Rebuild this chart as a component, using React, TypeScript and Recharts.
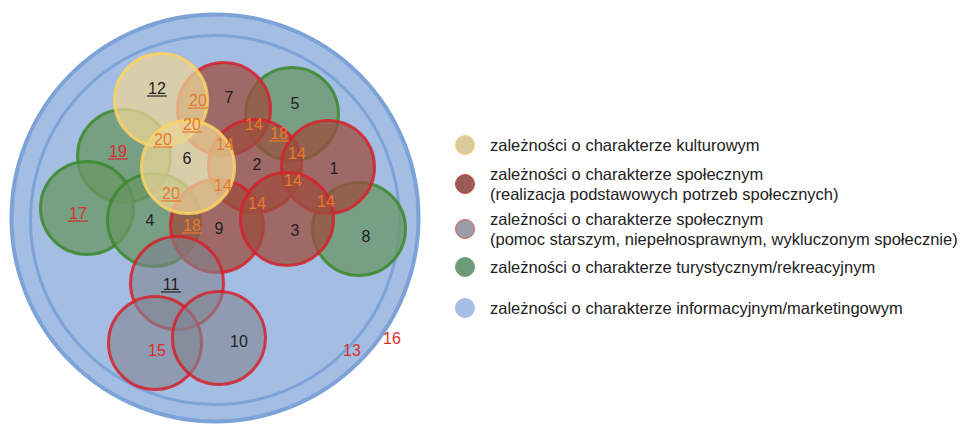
import { ScatterChart, Scatter, XAxis, YAxis } from 'recharts';

// circle centres and radii in diagram units (1 unit = 1 px)
const blueRings = [
  { id: 'outer', x: 215, y: 218, r: 203.5 },
  { id: 'inner', x: 215, y: 220, r: 184.5 },
];
const greenCircles = [
  { id: '5', x: 292, y: 114, r: 46.5 },
  { id: '19', x: 124, y: 156, r: 46.5 },
  { id: '17', x: 87, y: 208, r: 46.5 },
  { id: '4', x: 154, y: 220, r: 46.5 },
  { id: '8', x: 359, y: 229, r: 46.5 },
];
const redCircles = [
  { id: '7', x: 224, y: 109, r: 46.5 },
  { id: '2', x: 255, y: 166, r: 46.5 },
  { id: '1', x: 328, y: 167, r: 46.5 },
  { id: '9', x: 217, y: 226, r: 46.5 },
  { id: '3', x: 287, y: 219, r: 46.5 },
];
const yellowCircles = [
  { id: '12', x: 161, y: 100, r: 46.5 },
  { id: '6', x: 188, y: 167, r: 46.5 },
];
const greyCircles = [
  { id: '11', x: 177, y: 283, r: 46.5 },
  { id: '15', x: 155, y: 343, r: 46.5 },
  { id: '10', x: 219, y: 338, r: 46.5 },
];

// number labels: black ids, orange shared values, red outliers
const idLabels = [
  { text: '12', x: 157, y: 88, u: true },
  { text: '7', x: 229, y: 97 },
  { text: '5', x: 295, y: 103 },
  { text: '6', x: 187, y: 158 },
  { text: '2', x: 257, y: 164 },
  { text: '1', x: 334, y: 168 },
  { text: '4', x: 150, y: 220 },
  { text: '9', x: 219, y: 228 },
  { text: '3', x: 295, y: 230 },
  { text: '8', x: 366, y: 236 },
  { text: '11', x: 171, y: 284, u: true },
  { text: '10', x: 239, y: 341 },
];
const sharedLabels = [
  { text: '20', x: 198, y: 100, u: true },
  { text: '20', x: 192, y: 124, u: true },
  { text: '20', x: 163, y: 139, u: true },
  { text: '20', x: 171, y: 193, u: true },
  { text: '14', x: 254, y: 124 },
  { text: '14', x: 225, y: 144 },
  { text: '14', x: 297, y: 153 },
  { text: '14', x: 293, y: 180 },
  { text: '14', x: 223, y: 185 },
  { text: '14', x: 257, y: 203 },
  { text: '14', x: 326, y: 201 },
  { text: '18', x: 279, y: 133, u: true },
  { text: '18', x: 192, y: 225, u: true },
];
const redLabels = [
  { text: '19', x: 118, y: 151, u: true },
  { text: '17', x: 78, y: 213, u: true },
  { text: '15', x: 157, y: 350 },
  { text: '13', x: 352, y: 350 },
  { text: '16', x: 392, y: 338 },
];

const legendItems = [
  { key: 'yellow', lines: ['zależności o charakterze kulturowym'] },
  { key: 'red', lines: ['zależności o charakterze społecznym', '(realizacja podstawowych potrzeb społecznych)'] },
  { key: 'grey', lines: ['zależności o charakterze społecznym', '(pomoc starszym, niepełnosprawnym, wykluczonym społecznie)'] },
  { key: 'green', lines: ['zależności o charakterze turystycznym/rekreacyjnym'] },
  { key: 'blue', lines: ['zależności o charakterze informacyjnym/marketingowym'] },
];

const W = 965;
const H = 432;
const FONT = '"Liberation Sans", Arial, sans-serif';

const styles: Record<string, any> = {
  blue: { fill: '#a4bde3', stroke: '#7ca3d8', sw: 4, fo: 1, so: 1 },
  green: { fill: 'rgb(104,150,100)', stroke: '#3b8a2a', sw: 3, fo: 0.75, so: 0.85 },
  red: { fill: 'rgb(156,78,62)', stroke: '#d6212a', sw: 3, fo: 0.75, so: 0.85 },
  yellow: { fill: 'rgb(234,212,150)', stroke: '#fdd462', sw: 3, fo: 0.75, so: 0.85 },
  grey: { fill: 'rgb(128,132,144)', stroke: '#d6212a', sw: 3, fo: 0.6, so: 0.85 },
};

const legendSwatch: Record<string, any> = {
  yellow: { fill: '#d9ca9b', stroke: '#f6d472' },
  red: { fill: '#9b5b56', stroke: '#c54840' },
  grey: { fill: '#999da8', stroke: '#d9604f' },
  green: { fill: '#6c9b79', stroke: '#6c9b79' },
  blue: { fill: '#a6bfe4', stroke: '#a6bfe4' },
};

const legendGaps = [0, 7, 5, 6, 17];

const circleShape = (kind: string) => (props: any) => {
  const { cx, cy, payload } = props;
  const s = styles[kind];
  const sw = kind === 'blue' && payload.id === 'inner' ? 3 : s.sw;
  return (
    <circle
      cx={cx}
      cy={cy}
      r={payload.r}
      fill={s.fill}
      fillOpacity={s.fo}
      stroke={s.stroke}
      strokeOpacity={s.so}
      strokeWidth={sw}
    />
  );
};

const labelShape = (color: string) => (props: any) => {
  const { cx, cy, payload } = props;
  const w = payload.text.length * 9;
  return (
    <g>
      <text
        x={cx}
        y={cy}
        textAnchor="middle"
        dominantBaseline="central"
        fontFamily={FONT}
        fontSize={16}
        fill={color}
      >
        {payload.text}
      </text>
      {payload.u && (
        <line x1={cx - w / 2 - 1} x2={cx + w / 2 + 1} y1={cy + 8} y2={cy + 8} stroke={color} strokeWidth={1.2} />
      )}
    </g>
  );
};

function ChartLegend() {
  return (
    <div
      style={{
        position: 'absolute',
        left: 453,
        top: 133,
        fontFamily: FONT,
        fontSize: 16.5,
        color: '#222',
        lineHeight: '20px',
      }}
    >
      {legendItems.map((it, i) => {
        const sw = legendSwatch[it.key];
        return (
          <div key={it.key} style={{ display: 'flex', alignItems: 'center', marginTop: legendGaps[i] }}>
            <svg width={24} height={24} style={{ flex: 'none', marginRight: 13 }}>
              <circle cx={12} cy={12} r={9.5} fill={sw.fill} stroke={sw.stroke} strokeWidth={1} />
            </svg>
            <div style={{ whiteSpace: 'nowrap' }}>
              {it.lines.map((l) => (
                <div key={l}>{l}</div>
              ))}
            </div>
          </div>
        );
      })}
    </div>
  );
}

export default function App() {
  return (
    <div style={{ position: 'absolute', left: 0, top: 0, width: W, height: H, background: '#fff' }}>
      <ScatterChart width={W} height={H} margin={{ top: 0, right: 0, bottom: 0, left: 0 }}>
        <XAxis type="number" dataKey="x" domain={[0, W]} hide />
        <YAxis type="number" dataKey="y" domain={[0, H]} reversed hide />
        <Scatter data={blueRings} shape={circleShape('blue')} isAnimationActive={false} />
        <Scatter data={greenCircles} shape={circleShape('green')} isAnimationActive={false} />
        <Scatter data={redCircles} shape={circleShape('red')} isAnimationActive={false} />
        <Scatter data={yellowCircles} shape={circleShape('yellow')} isAnimationActive={false} />
        <Scatter data={greyCircles} shape={circleShape('grey')} isAnimationActive={false} />
        <Scatter data={idLabels} shape={labelShape('#222')} isAnimationActive={false} />
        <Scatter data={sharedLabels} shape={labelShape('#e8792c')} isAnimationActive={false} />
        <Scatter data={redLabels} shape={labelShape('#d8302a')} isAnimationActive={false} />
      </ScatterChart>
      <ChartLegend />
    </div>
  );
}
